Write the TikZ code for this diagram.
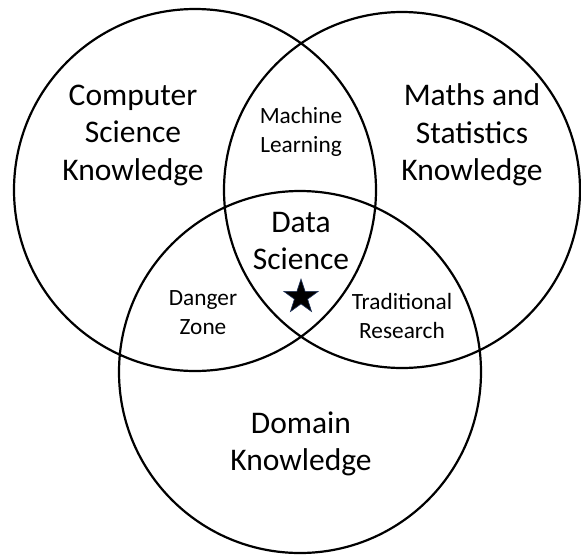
\documentclass[tikz,border=0pt]{standalone}
\usepackage{fontspec}
\setmainfont{Carlito}
\usetikzlibrary{shapes.geometric}

\tikzset{
	bigtext/.style={align=center, font=\fontsize{31.5}{37.5}\selectfont},
	smalltext/.style={align=center, font=\fontsize{23.3}{29}\selectfont}
}

\begin{document}
\begin{tikzpicture}[x=1pt, y=-1pt]
	\useasboundingbox (0,0) rectangle (581,555);
	\fill [white] (0,0) rectangle (581,555);
	\draw [line width=2.2pt] (195,190) circle (181pt) (402,190) circle (178pt) (300,372) circle (181pt);
	\node [bigtext] (cs) at (133,135) {Computer\\Science\\Knowledge};
	\node [bigtext] (ms) at (472,135) {Maths and\\Statistics\\Knowledge};
	\node [bigtext] (dk) at (301,444) {Domain\\Knowledge};
	\node [bigtext] (ds) at (301,241) {Data\\Science};
	\node [smalltext] (ml) at (301,132) {Machine\\Learning};
	\node [smalltext] (dz) at (203,313) {Danger\\Zone};
	\node [smalltext] (tr) at (402,316) {Traditional\\Research};
	\node [star, star points=5, star point ratio=2.6, fill=black, draw={rgb,255:red,30;green,50;blue,90}, line width=0.6pt, minimum size=36pt, inner sep=0pt] (st) at (301,297) {};
\end{tikzpicture}
\end{document}
